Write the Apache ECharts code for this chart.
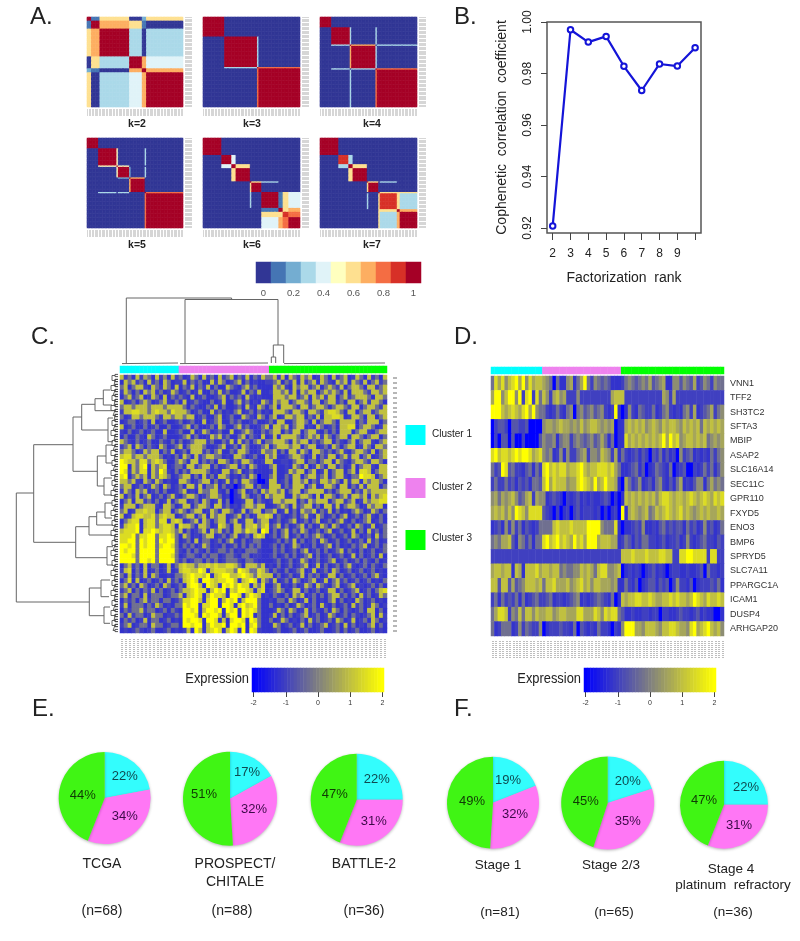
<!DOCTYPE html>
<html><head><meta charset="utf-8">
<style>html,body{margin:0;padding:0;background:#fff}#c{width:800px;height:941px}</style>
<script src="https://cdn.jsdelivr.net/npm/echarts@6/dist/echarts.min.js"></script>
</head><body><div id="c"></div>
<script>
// ---------- Panel A: consensus matrices (segment sizes and block values) ----------
const consensusLabels = ['k=2','k=3','k=4','k=5','k=6','k=7'];
const k2Sizes=[3,6,21,9,3,26];
const k2Blocks=[[1,.1,.6,0,.2,.6],[.1,1,.7,.6,.1,0],[.6,.7,1,.3,0,.3],[0,.6,.3,1,.7,.4],[.2,.1,0,.7,1,.7],[.6,0,.3,.4,.7,1]];
const k3Sizes=[15,23,1,29];
const k3Blocks=[[1,0,0,0],[0,1,.3,0],[0,.3,1,.8],[0,0,.8,1]];
const k4Sizes=[8,13,1,17,1,28];
const k4Blocks=[[1,0,0,0,0,0],[0,1,.3,0,.3,0],[0,.3,1,.7,0,.3],[0,0,.7,1,.3,0],[0,.3,0,.3,1,.8],[0,0,.3,0,.8,1]];
const k5Sizes=[8,13,1,8,1,10,1,26];
const k5Blocks=[[1,0,0,0,0,0,0,0],[0,1,.5,0,0,0,.3,0],[0,.5,1,.5,0,0,0,0],[0,0,.5,1,.2,0,.3,0],[0,0,0,.2,1,.7,0,0],[0,0,0,0,.7,1,0,0],[0,.3,0,.3,0,0,1,.8],[0,0,0,0,0,0,.8,1]];
const k6Sizes=[13,7,3,10,1,7,12,3,4,8];
const k6Blocks=[[1,0,0,0,0,0,0,0,0,0],[0,1,.45,0,0,0,0,0,0,0],[0,.45,1,.55,0,0,0,0,0,0],[0,0,.55,1,0,0,0,0,0,0],[0,0,0,0,1,.6,.3,0,0,0],[0,0,0,0,.6,1,0,0,0,0],[0,0,0,0,.3,0,1,.1,.55,.42],[0,0,0,0,0,0,.1,1,.6,.7],[0,0,0,0,0,0,.55,.6,.9,.8],[0,0,0,0,0,0,.42,.7,.8,1]];
const k7Sizes=[13,7,3,10,1,7,1,12,2,12];
const k7Blocks=[[1,0,0,0,0,0,0,0,0,0],[0,.85,.35,0,0,0,0,0,0,0],[0,.35,1,.55,0,0,0,0,0,0],[0,0,.55,1,0,0,0,0,0,0],[0,0,0,0,.9,.6,0,.3,0,0],[0,0,0,0,.6,1,0,0,0,0],[0,0,0,0,0,0,1,.6,.6,.6],[0,0,0,0,.3,0,.6,.85,.6,.3],[0,0,0,0,0,0,.6,.6,1,.7],[0,0,0,0,0,0,.6,.3,.7,.95]];
const consensusScale=[0,.1,.2,.3,.4,.5,.6,.7,.8,.9,1];
const consensusScaleLabels=['0','','0.2','','0.4','','0.6','','0.8','','1'];
const consensusColors=['#313695','#4575b4','#74add1','#abd9e9','#e0f3f8','#ffffbf','#fee090','#fdae61','#f46d43','#d73027','#a50026'];

// ---------- Panel B ----------
const ranks=[2,3,4,5,6,7,8,9,10];
const cophenetic=[0.9208,0.997,0.9922,0.9944,0.9828,0.9734,0.9837,0.9829,0.990];
const rankTicks=[2,3,4,5,6,7,8,9,10];
const rankLabels=[2,3,4,5,6,7,8,9];
const copheneticTicks=[0.92,0.94,0.96,0.98,1.00];

// ---------- Panel C / D ----------
const clusterNames=['Cluster 1','Cluster 2','Cluster 3'];
const clusterSizes=[15,23,30];
const clusterColors=['#00ffff','#ee82ee','#00ff00'];
const expressionScale=[-2,-1.9,-1.8,-1.7,-1.6,-1.5,-1.4,-1.3,-1.2,-1.1,-1,-.9,-.8,-.7,-.6,-.5,-.4,-.3,-.2,-.1,0,.1,.2,.3,.4,.5,.6,.7,.8,.9,1,1.1,1.2,1.3,1.4,1.5,1.6,1.7,1.8,1.9,2];
// each digit in the rows below is an index into this list of expression levels
const digitLevels=[-2,-1.2,-1,-.65,-.25,.2,.6,1,1.45,2];
const panelCRows=[
'72417 26417 25172 41274 17241 72471 42714 274 47271 74274 71274 17247 12741 72417',
'17472 41724 17412 27142 41172 74124 71412 112 24714 27172 47174 21747 17427 14724',
'47147 72174 27417 14271 42714 11742 14724 111 17472 17477 24714 74271 47741 77247',
'27414 17472 41274 12412 71142 72411 27142 711 27747 27174 77147 47427 17774 27747',
'14724 71274 17142 42171 24112 47142 41721 211 17774 77247 17472 77147 24777 41774',
'71241 47412 47214 17124 21141 27114 72412 174 27477 14774 27714 77241 77147 27741',
'47747 77477 74777 74142 11427 14112 41721 741 47177 74177 24774 14774 27714 77427',
'27788 77478 77487 77412 41172 41214 71241 412 17774 27741 77427 88741 77147 72477',
'41277 47774 27747 74771 24114 71241 17421 741 47127 74771 42717 78871 27741 77147',
'12441 24171 24112 41241 17124 71142 41124 112 41771 14774 17147 74177 77142 77714',
'71241 14124 11411 24714 11241 74114 72411 247 17747 14771 21741 24177 88147 74127',
'21412 41241 17112 41171 27412 41171 24741 142 47714 27714 77214 14177 71477 21477',
'14114 21741 24111 24714 11274 72411 47142 171 27177 77414 74727 41477 17741 47714',
'74214 12411 42141 41247 77241 14271 72414 714 47774 17477 14247 71421 47147 72147',
'24717 41421 74124 71477 74112 47124 17411 247 14777 47714 77124 17414 77127 41774',
'47741 27477 14271 24177 72414 71142 77411 274 47141 77274 17742 41472 14774 27147',
'78847 74777 41214 17417 24774 41217 74124 117 47112 47741 27142 77147 27714 71247',
'98774 88478 74114 74177 14241 77414 27741 127 71122 14771 44147 71742 14774 27741',
'99174 89174 78124 41772 47714 12477 14174 111 47112 17427 12741 77241 27147 72177',
'98274 88174 97214 14277 77412 17724 71241 111 27112 74771 47127 14771 47188 71477',
'89147 47174 87412 47714 17241 77412 14274 011 47114 27714 77247 14772 14498 87147',
'77472 17427 41211 77412 47714 12714 17742 001 77124 17747 14277 47417 27717 47741',
'47712 41274 17412 41772 71447 14120 14771 411 77714 27771 47127 74177 14272 77714',
'27417 47124 14112 47121 74477 21401 47124 174 77471 47714 77772 41477 71427 47777',
'71427 14712 41472 14774 12477 41201 27412 417 47771 17477 41717 74147 27747 17478',
'14717 72414 12714 77124 17412 71401 12771 421 27747 77142 74777 14772 47127 47788',
'27771 47772 17741 27714 77417 72412 14774 771 12474 17247 71417 72714 77412 74771',
'47127 78771 47714 74147 71274 17741 27147 714 47127 14174 47142 71412 14741 27414',
'71278 87784 78771 24771 47174 77124 71412 778 71421 24147 21741 24147 12414 72141',
'14788 17884 88178 71247 17414 77147 12771 477 12412 47124 14712 41472 14124 71241',
'27889 17884 78871 87741 77412 87417 72778 478 24714 12471 41274 17412 41741 27124',
'78889 18898 78874 71412 47174 72417 74877 198 14147 14274 12414 71241 27141 72414',
'88894 88994 88984 17412 14771 24147 12417 871 24147 12414 24741 24124 17412 41724',
'88994 98994 98994 12417 14412 41472 14124 411 12414 27141 24174 12412 41241 72412',
'99894 98994 89984 14241 27412 14124 14142 411 24141 27412 14124 71412 14247 12414',
'98994 99994 99994 21414 21412 44241 21444 211 14241 24147 12414 12471 42141 24124',
'99984 99994 99984 12442 14244 12442 14412 211 24124 14124 71412 41241 27141 24171',
'99994 99894 99994 24124 41424 12444 21442 111 12412 41274 12412 47124 12414 21412',
'14724 17144 12714 78774 77878 77887 41777 471 21412 41247 12714 12414 72124 14214',
'27814 17124 12712 78877 98178 88774 98744 874 14214 12471 27124 17412 41241 24121',
'41714 27174 11214 47898 87917 89977 89874 877 71412 41271 42412 77141 24124 14721',
'14817 12412 41724 17898 19987 88997 17898 174 27124 17412 47127 14724 12412 41214',
'47241 74124 17412 41899 71987 19897 98817 481 14712 14127 41742 14712 47121 24141',
'24714 14271 41241 47789 88179 89187 99871 781 24741 27714 12412 77141 24712 41478',
'47144 17144 41244 71789 81798 87199 81798 712 14214 17471 24141 47724 14172 41274',
'14241 47244 14412 48899 71899 17989 17999 411 21441 74127 14121 47141 21741 24121',
'27144 41427 41214 49899 18899 19981 89789 411 41214 12741 24172 14124 17241 27412',
'14244 72441 24142 19989 17998 91989 19898 411 12741 74127 14214 17414 21241 77141',
'41724 41274 41224 29998 19899 71799 19891 411 27141 41247 12412 74124 14212 47172',
'14241 27144 12412 19899 81998 17189 98198 411 41274 12141 72412 41741 27124 17412',
'24712 44174 41244 19989 91798 89199 89189 411 17412 41271 41247 12417 14121 47141',
'12124 21241 12412 12719 71789 81798 19198 211 12411 24124 11241 12414 12411 24121'
];
const geneNames=['VNN1','TFF2','SH3TC2','SFTA3','MBIP','ASAP2','SLC16A14','SEC11C','GPR110','FXYD5','ENO3','BMP6','SPRYD5','SLC7A11','PPARGC1A','ICAM1','DUSP4','ARHGAP20'];
const panelDRows=[
'48685 78969 58677 65404 11561 46942 54343 111 24543 45463 45611 55354 36235 42544',
'69957 99592 89284 75267 56222 52222 22222 677 72222 22222 22652 62222 22222 22222',
'99976 78768 96954 42124 21450 45345 34521 291 01521 43224 12452 12145 26123 46245',
'02332 03322 30000 56656 76656 57567 76565 601 16767 67567 65767 76576 76747 67676',
'02033 03002 00003 54451 45524 54345 34641 401 18676 76767 67969 78567 76767 45656',
'89788 78989 98678 54512 51522 45625 54765 261 42123 13203 24131 20523 41212 14245',
'42398 34221 34142 89787 88677 89767 78887 864 11234 13012 43214 01230 02124 24135',
'24224 23132 31443 79687 77566 89876 96797 761 06423 51231 45213 14612 13551 46454',
'56465 67534 67265 51232 10212 31212 11232 010 17676 76767 57887 67767 87678 76878',
'67675 75987 58888 32102 01202 31222 12010 120 91676 56745 76787 67867 65676 76676',
'12315 25241 32124 44478 77787 77799 99544 481 01123 25112 13423 23314 23125 23124',
'45466 73154 24144 89789 78769 78699 96777 661 24313 24422 12312 23125 21234 22132',
'22222 22222 22222 22222 22222 22222 22222 222 77787 77877 78877 22889 98888 28822',
'67767 71761 77786 77677 45445 57676 47885 567 01212 10123 12101 22112 11230 42212',
'77377 36345 77767 47786 66756 78675 77666 561 14213 01233 13230 25221 30122 23241',
'24142 32414 12342 23412 21234 51212 34321 401 76778 87787 66778 78776 79876 87787',
'46887 25474 77576 67756 77666 88666 87587 884 31121 12212 20221 12322 12312 11001',
'41244 41252 43225 01222 32214 03212 14221 021 59996 65777 65778 87665 89678 97675'
];

// ---------- Dendrograms: [posA, heightA, posB, heightB, mergeHeight] ----------
const leftMerges=[
[493,33.7,602,89.3,16.3],[444.7,73,542.3,75.7,33.7],[417,81.7,471.3,97.3,73],[404.3,95,430,108,81.7],
[398.7,103.3,410.7,115,95],[390,110,405,112,103.3],[418,113,441.7,113,108],[456,106,486,104,97.3],
[445,112,463,112,106],[478,112,495,112,104],[526.7,89,557.7,107,75.7],[516.7,96.7,535,112,89],
[512,105,525,113,96.7],[503,112,518,112,105],[546.7,113,565,113,107],[588,101,615.7,104,89.3],
[580,110,596.7,109,101],[607,110,623.3,110,104]];
const leftLeaves=[[378,112],[383,114],[388,111],[393,113],[398,112],[403,114],[408,111],[413,113],[418,114],[423,112],[428,113],[433,111],[438,114],[443,112],[448,113],[453,111],[458,114],[463,112],[468,113],[473,111],[478,114],[483,112],[488,113],[493,111],[498,114],[503,112],[508,113],[513,111],[518,114],[523,112],[528,113],[533,111],[538,114],[543,112],[548,113],[553,111],[558,114],[563,112],[568,113],[573,111],[578,114],[583,112],[588,113],[593,111],[598,114],[603,112],[608,113],[613,111],[618,114],[623,112],[628,113]];
const topMerges=[[126.3,363,231.6,299.5,298],[185,363,278,345,299.5],[273.3,357,283.7,363,345],[271.3,363,275.7,363,357],[122,363.6,178,363.6,363],[180,363.6,268,363.6,363],[284,363.6,385,363.6,363]];

// ---------- Panels E / F ----------
const piePrinted=[['22%','34%','44%'],['17%','32%','51%'],['22%','31%','47%'],['19%','32%','49%'],['20%','35%','45%'],['22%','31%','47%']];
const pieSlices=[[22,34,44],[17,32,51],[25,31,44],[19,32,49],[20,35,45],[25,31,44]];

// ---------- Layout (pixels) ----------
const consensusBoxes=[[87,17,96,90],[203,17,97,90],[320,17,97,90],[87,138,96,90],[203,138,97,90],[320,138,97,90]];
const consensusLabelPos=[[137,124],[252,124],[372,124],[137,245],[252,245],[372,245]];
const pieGeo=[[104.7,798,46],[230,798.7,47],[356.7,799.7,46],[493,802.7,46],[607.7,803,46.5],[724,804.7,44]];
const pieLabelOffsets=[[[20,-22],[20,18],[-22,-3]],[[17,-26],[24,11],[-26,-4]],[[20,-20],[17,22],[-22,-5]],[[15,-22],[22,12],[-21,-1]],[[20,-22],[20,18],[-22,-2]],[[22,-17],[15,21],[-20,-4]]];
const pieTextCol=['#0f4a50','#3c0a48','#0f3a05'];
const pieFill=['#33fdfd','#ff77f5','#40f514'];
const texts=[
['A.',30,17,24,'left'],['B.',454,17,24,'left'],['C.',31,337,24,'left'],['D.',454,337,24,'left'],['E.',32,709,24,'left'],['F.',454,709,24,'left'],
['TCGA',102,864,14,'center'],['PROSPECT/',235,864,14,'center'],['CHITALE',235,882,14,'center'],['BATTLE-2',364,864,14,'center'],
['(n=68)',102,911,14,'center'],['(n=88)',232,911,14,'center'],['(n=36)',364,911,14,'center'],
['Stage 1',498,865,13.5,'center'],['Stage 2/3',611,865,13.5,'center'],['Stage 4',731,869,13.5,'center'],['platinum  refractory',733,885,13.5,'center'],
['(n=81)',500,912,13.5,'center'],['(n=65)',614,912,13.5,'center'],['(n=36)',733,912,13.5,'center']
];

// ---------- Build ----------
const FONT='"Liberation Sans",Arial,sans-serif';
const grids=[],xAxes=[],yAxes=[],series=[],graphics=[];
const consensusIdx=[],exprIdx=[];
const nums=n=>Array.from({length:n},(_,i)=>String(i));
function grid(l,t,w,h,x,y){grids.push({left:l,top:t,width:w,height:h,containLabel:false,show:false});const i=grids.length-1;
  xAxes.push(Object.assign({gridIndex:i,show:true,axisLine:{show:false},axisTick:{show:false},axisLabel:{show:false},splitLine:{show:false}},x));
  yAxes.push(Object.assign({gridIndex:i,show:true,axisLine:{show:false},axisTick:{show:false},axisLabel:{show:false},splitLine:{show:false}},y));return i;}
function heat(i,data,idxList){series.push({type:'heatmap',xAxisIndex:i,yAxisIndex:i,data,progressive:0,animation:false,silent:true,emphasis:{disabled:true},itemStyle:{borderWidth:0}});if(idxList)idxList.push(series.length-1);}
function expand(sizes,blocks){const seg=[];sizes.forEach((s,i)=>{for(let k=0;k<s;k++)seg.push(i)});const out=[];seg.forEach((a,r)=>seg.forEach((b,c)=>out.push([c,r,blocks[a][b]])));return out;}
function decode(rows){const out=[];rows.forEach((s,r)=>{const t=s.replace(/\s/g,'');for(let c=0;c<t.length;c++)out.push([c,r,digitLevels[+t[c]]]);});return out;}
function mergePath(m,swap){const out=[];m.forEach(([a,ha,b,hb,h])=>{const p=[[ha,a],[h,a],[h,b],[hb,b]];p.forEach(q=>out.push(swap?[q[1],q[0]]:q));out.push(['-','-']);});return out;}
function lines(i,data,col,w){series.push({type:'line',xAxisIndex:i,yAxisIndex:i,data,showSymbol:false,symbol:'none',silent:true,animation:false,connectNulls:false,lineStyle:{color:col||'#666',width:w||1}});}

// Panel A
[[k2Sizes,k2Blocks],[k3Sizes,k3Blocks],[k4Sizes,k4Blocks],[k5Sizes,k5Blocks],[k6Sizes,k6Blocks],[k7Sizes,k7Blocks]].forEach((d,n)=>{
  const b=consensusBoxes[n];
  const tick={show:true,interval:0,alignWithLabel:true,length:7,lineStyle:{color:'#d6d6d6',width:1}};
  const i=grid(b[0],b[1],b[2],b[3],{type:'category',data:nums(68),position:'bottom',offset:2,axisTick:tick},{type:'category',data:nums(68),inverse:true,position:'right',offset:2,axisTick:tick});
  heat(i,expand(d[0],d[1]),consensusIdx);
});
// consensus colour bar
{const i=grid(256,262,165,21,{type:'category',data:consensusScaleLabels.map((s,k)=>k+'|'+s),axisLabel:{show:true,interval:0,margin:5,fontSize:9.5,color:'#555',fontFamily:FONT,formatter:v=>v.split('|')[1]}},{type:'category',data:['0']});
 heat(i,consensusScale.map((v,k)=>[k,0,v]),consensusIdx);}

// Panel B
{const i=grid(547,22,154,211,
  {type:'value',min:1.68,max:10.33,axisTick:{show:true,length:7,customValues:rankTicks,lineStyle:{color:'#444'}},axisLabel:{show:true,customValues:rankLabels,margin:15,fontSize:12,color:'#222',fontFamily:FONT},name:'Factorization  rank',nameLocation:'middle',nameGap:38,nameTextStyle:{fontSize:14,color:'#222',fontFamily:FONT}},
  {type:'value',min:0.91806,max:1,axisTick:{show:true,length:6,customValues:copheneticTicks,lineStyle:{color:'#444'}},axisLabel:{show:true,customValues:copheneticTicks,rotate:90,margin:13,fontSize:12,color:'#222',fontFamily:FONT,formatter:v=>v.toFixed(2)},name:'Cophenetic  correlation  coefficient',nameLocation:'middle',nameGap:38,nameTextStyle:{fontSize:14,color:'#222',fontFamily:FONT}});
 grids[i].show=true;grids[i].borderColor='#555';grids[i].borderWidth=1.5;grids[i].backgroundColor='transparent';
 series.push({type:'line',xAxisIndex:i,yAxisIndex:i,data:ranks.map((r,k)=>[r,cophenetic[k]]),symbol:'circle',symbolSize:5.5,silent:true,animation:false,lineStyle:{color:'#1414d8',width:2.2},itemStyle:{color:'#fff',borderColor:'#1414d8',borderWidth:2}});}

// Cluster annotation bars
function clusterBar(l,t,w,h){const i=grid(l,t,w,h,{type:'category',data:nums(68)},{type:'category',data:['0']});
  const cells=[];let c=0;clusterSizes.forEach((s,k)=>{for(let n=0;n<s;n++)cells.push({value:[c++,0,k],itemStyle:{color:clusterColors[k]}});});heat(i,cells);}
function colourBar(l,t,w,h){const i=grid(l,t,w,h,{type:'category',data:expressionScale.map(String),
   axisTick:{show:true,interval:k=>k%10===0,alignWithLabel:true,length:5,lineStyle:{color:'#444',width:1}},
   axisLabel:{show:true,interval:k=>k%10===0,margin:8,fontSize:7,color:'#333',fontFamily:FONT}},{type:'category',data:['0']});
  heat(i,expressionScale.map((v,k)=>[k,0,v]),exprIdx);}

// Panel C
clusterBar(120,366,267,7);
{const i=grid(120,375,267,258,
  {type:'category',data:nums(68),position:'bottom',offset:6,axisTick:{show:true,interval:0,alignWithLabel:true,length:19,lineStyle:{color:'#a8a8a8',width:1.5,type:[1,1]}}},
  {type:'category',data:nums(panelCRows.length),inverse:true,position:'right',offset:6,axisTick:{show:true,interval:0,alignWithLabel:true,length:4,lineStyle:{color:'#a0a0a0',width:1.5}}});
 heat(i,decode(panelCRows),exprIdx);}
colourBar(252,668,132,24);
{const i=grid(120,290,270,75,{type:'value',min:120,max:390},{type:'value',min:290,max:365,inverse:true});
 lines(i,mergePath(topMerges,true));}
{const i=grid(0,370,120,270,{type:'value',min:0,max:120},{type:'value',min:370,max:640,inverse:true});
 lines(i,mergePath(leftMerges,false));
 lines(i,mergePath(leftLeaves.map(([y,h])=>[y-2.5,115,y+2.5,115,h]),false),'#555',.9);
 lines(i,mergePath(leftLeaves.flatMap(([y,h])=>[[y-3.6,118,y-1.4,118,115],[y+1.4,118,y+3.6,118,115]]),false),'#444',.9);}

// Panel D
clusterBar(491,367,233,7);
{const i=grid(491,376,233,260,
  {type:'category',data:nums(68),position:'bottom',offset:5,axisTick:{show:true,interval:0,alignWithLabel:true,length:17,lineStyle:{color:'#a8a8a8',width:1.5,type:[1,1]}}},
  {type:'category',data:geneNames,inverse:true,position:'right',axisLabel:{show:true,interval:0,margin:6,fontSize:9,color:'#333',fontFamily:FONT}});
 heat(i,decode(panelDRows),exprIdx);}
colourBar(584,668,132,24);

// Pies
pieSlices.forEach((vals,n)=>{const g=pieGeo[n];
 series.push({type:'pie',center:[g[0],g[1]],radius:[0,g[2]],startAngle:90,clockwise:true,animation:false,silent:true,
  data:vals.map((v,k)=>({value:v,name:clusterNames[k],itemStyle:{color:pieFill[k]},label:{color:pieTextCol[k]}})),
  itemStyle:{shadowBlur:3,shadowColor:'rgba(0,0,0,.28)',shadowOffsetY:1},
  label:{show:true,position:'inside',fontSize:13,fontFamily:FONT,formatter:p=>piePrinted[n][p.dataIndex]},labelLine:{show:false},
  labelLayout:p=>{const o=pieLabelOffsets[n][p.dataIndex];return {x:g[0]+o[0],y:g[1]+o[1],align:'center',verticalAlign:'middle'};}});
});

// Text and legend
const tx=(t,x,y,s,a,extra,el)=>graphics.push(Object.assign({type:'text',x,y,silent:true,style:Object.assign({text:t,font:s+'px '+FONT,fill:'#222',align:a,verticalAlign:'middle'},extra||{})},el||{}));
texts.forEach(t=>tx(t[0],t[1],t[2],t[3],t[4]));
tx('Expression',249,679,14,'right',null,{scaleX:.92});
tx('Expression',581,679,14,'right',null,{scaleX:.92});
consensusLabels.forEach((t,n)=>tx(t,consensusLabelPos[n][0],consensusLabelPos[n][1],10.5,'center',{font:'bold 10.5px '+FONT}));
[[405.5,425,434],[405.5,478,487],[405.5,530,538]].forEach((p,k)=>{
  graphics.push({type:'rect',silent:true,shape:{x:p[0],y:p[1],width:20,height:20},style:{fill:clusterColors[k]}});
  tx(clusterNames[k],432,p[2],10,'left');});

const chart=echarts.init(document.getElementById('c'),null,{renderer:'canvas'});
chart.setOption({backgroundColor:'#fff',animation:false,textStyle:{fontFamily:FONT},grid:grids,xAxis:xAxes,yAxis:yAxes,series,graphic:graphics,tooltip:{show:false},
 visualMap:[
  {type:'piecewise',show:false,min:0,max:1,splitNumber:11,seriesIndex:consensusIdx,dimension:2,inRange:{color:consensusColors}},
  {type:'continuous',show:false,min:-2,max:2,seriesIndex:exprIdx,dimension:2,inRange:{color:['#0000ff','#808080','#ffff00']}}
 ]});
</script></body></html>
